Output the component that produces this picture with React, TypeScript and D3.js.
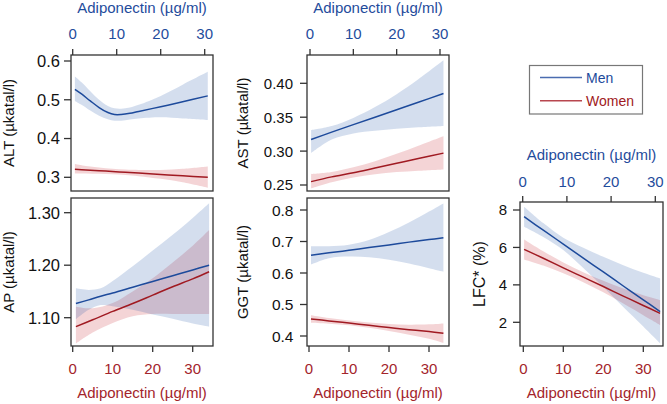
import React from 'react';
import * as d3 from 'd3';

// ---------- data ----------
const xTicks = [0, 10, 20, 30];

// ALT (µkatal/l)
const altMenX = [0.5, 2, 4, 6, 8, 9.5, 11, 13, 15, 20, 25, 30.7];
const altMen = [0.527, 0.515, 0.497, 0.480, 0.467, 0.462, 0.462, 0.465, 0.470, 0.482, 0.495, 0.510];
const altMenHi = [0.560, 0.545, 0.522, 0.500, 0.484, 0.478, 0.477, 0.480, 0.487, 0.510, 0.539, 0.572];
const altMenLo = [0.497, 0.487, 0.472, 0.459, 0.450, 0.446, 0.446, 0.449, 0.452, 0.455, 0.452, 0.448];
const altWomenX = [0.5, 3, 6, 9, 12, 15, 20, 25, 30.7];
const altWomen = [0.321, 0.319, 0.317, 0.315, 0.313, 0.311, 0.307, 0.304, 0.300];
const altWomenHi = [0.334, 0.329, 0.325, 0.322, 0.320, 0.319, 0.319, 0.322, 0.328];
const altWomenLo = [0.310, 0.310, 0.309, 0.308, 0.306, 0.303, 0.296, 0.287, 0.273];
const altTicks = [0.3, 0.4, 0.5, 0.6];

// AST (µkatal/l)
const astX = [0.25, 5, 10, 15, 20, 25, 30.8];
const astMen = [0.317, 0.328, 0.339, 0.350, 0.361, 0.372, 0.385];
const astMenHi = [0.331, 0.337, 0.349, 0.365, 0.384, 0.406, 0.434];
const astMenLo = [0.297, 0.317, 0.326, 0.330, 0.333, 0.335, 0.337];
const astWomen = [0.255, 0.262, 0.268, 0.275, 0.282, 0.289, 0.297];
const astWomenHi = [0.266, 0.269, 0.276, 0.285, 0.296, 0.308, 0.322];
const astWomenLo = [0.245, 0.254, 0.261, 0.266, 0.269, 0.271, 0.273];
const astTicks = [0.25, 0.30, 0.35, 0.40];

// AP (µkatal/l)
const apMenX = [0.8, 4, 7, 10, 15, 20, 25, 30, 34.1];
const apMen = [1.127, 1.134, 1.141, 1.147, 1.158, 1.169, 1.180, 1.191, 1.200];
const apMenHi = [1.156, 1.153, 1.156, 1.170, 1.198, 1.228, 1.258, 1.290, 1.318];
const apMenLo = [1.097, 1.115, 1.124, 1.122, 1.115, 1.106, 1.098, 1.089, 1.083];
const apWomenX = [0.8, 5, 10, 15, 20, 25, 30, 34.1];
const apWomen = [1.083, 1.096, 1.112, 1.127, 1.143, 1.159, 1.174, 1.1876];
const apWomenHi = [1.121, 1.118, 1.128, 1.150, 1.175, 1.205, 1.237, 1.267];
const apWomenLo = [1.051, 1.072, 1.090, 1.103, 1.107, 1.107, 1.107, 1.107];
const apTicks = [1.10, 1.20, 1.30];

// GGT (µkatal/l)
const ggtX = [0.5, 5, 10, 15, 20, 25, 30, 33.6];
const ggtMen = [0.656, 0.664, 0.672, 0.681, 0.689, 0.698, 0.706, 0.712];
const ggtMenHi = [0.685, 0.685, 0.690, 0.705, 0.730, 0.760, 0.795, 0.821];
const ggtMenLo = [0.627, 0.647, 0.652, 0.650, 0.642, 0.630, 0.615, 0.604];
const ggtWomen = [0.454, 0.448, 0.441, 0.434, 0.427, 0.420, 0.414, 0.409];
const ggtWomenHi = [0.466, 0.457, 0.449, 0.443, 0.438, 0.436, 0.437, 0.440];
const ggtWomenLo = [0.442, 0.439, 0.434, 0.426, 0.416, 0.404, 0.391, 0.378];
const ggtTicks = [0.4, 0.5, 0.6, 0.7, 0.8];

// LFC* (%)
const lfcX = [0.2, 5, 10, 15, 20, 25, 30, 34.2];
const lfcMen = [7.64, 6.92, 6.18, 5.43, 4.69, 3.94, 3.20, 2.57];
const lfcMenHi = [8.18, 7.30, 6.52, 5.98, 5.50, 5.05, 4.65, 4.35];
const lfcMenLo = [7.11, 6.56, 5.86, 4.90, 3.88, 2.82, 1.78, 0.88];
const lfcWomen = [5.90, 5.42, 4.91, 4.41, 3.91, 3.40, 2.90, 2.48];
const lfcWomenHi = [6.43, 5.80, 5.20, 4.68, 4.22, 3.80, 3.45, 3.19];
const lfcWomenLo = [5.36, 5.03, 4.62, 4.14, 3.60, 3.00, 2.38, 1.86];
const lfcTicks = [2, 4, 6, 8];

const legendLabels = ['Men', 'Women'];
const xTitle = 'Adiponectin (µg/ml)';

// ---------- styles ----------
const FONT = '"Liberation Sans", Arial, Helvetica, sans-serif';
const MEN = '#1d4a9b';
const WOMEN = '#a01a22';
const MEN_BAND = 'rgb(40,90,170)';
const WOMEN_BAND = 'rgb(200,40,50)';
const BAND_OP = 0.2;
const TOP_COL = '#1f4c9c';
const BOT_COL = '#a3242b';
const FRAME = '#333';

type Series = { x: number[]; y: number[]; lo: number[]; hi: number[] };

type PanelCfg = {
  frame: [number, number, number, number];
  xTop?: d3.ScaleLinear<number, number>;
  xBot?: d3.ScaleLinear<number, number>;
  xData: d3.ScaleLinear<number, number>;
  y: d3.ScaleLinear<number, number>;
  yTicks: number[];
  fmt: (v: number) => string;
  tickFont: number;
  tickGap: number;
  yLabel: string;
  yLabelX: number;
  yLabelFont: number;
  men: Series;
  women: Series;
  topTitleY?: number;
  topLabY?: number;
};

function Panel({ c }: { c: PanelCfg }) {
  const [x0, y0, x1, y1] = c.frame;
  const band = (s: Series) =>
    d3
      .area<number>()
      .x((_, i) => c.xData(s.x[i]))
      .y0((_, i) => c.y(s.lo[i]))
      .y1((_, i) => c.y(s.hi[i]))
      .curve(d3.curveCatmullRom)(s.x) || '';
  const line = (s: Series) =>
    d3
      .line<number>()
      .x((_, i) => c.xData(s.x[i]))
      .y((_, i) => c.y(s.y[i]))
      .curve(d3.curveCatmullRom)(s.x) || '';
  const cx = (x0 + x1) / 2;
  const cy = (y0 + y1) / 2;
  return (
    <g>
      <path d={band(c.women)} fill={WOMEN_BAND} fillOpacity={BAND_OP} />
      <path d={band(c.men)} fill={MEN_BAND} fillOpacity={BAND_OP} />
      <path d={line(c.women)} fill="none" stroke={WOMEN} strokeWidth={1.5} />
      <path d={line(c.men)} fill="none" stroke={MEN} strokeWidth={1.5} />
      <rect x={x0} y={y0} width={x1 - x0} height={y1 - y0} fill="none" stroke={FRAME} strokeWidth={1.3} />
      {c.yTicks.map((t) => (
        <g key={t}>
          <line x1={x0 - 7} x2={x0} y1={c.y(t)} y2={c.y(t)} stroke={FRAME} strokeWidth={1.3} />
          <text x={x0 - c.tickGap} y={c.y(t)} dy="0.36em" textAnchor="end" fontSize={c.tickFont} fill="#111">
            {c.fmt(t)}
          </text>
        </g>
      ))}
      <text
        transform={`translate(${c.yLabelX},${cy}) rotate(-90)`}
        textAnchor="middle"
        dy="0.36em"
        fontSize={c.yLabelFont}
        fill="#111"
      >
        {c.yLabel}
      </text>
      {c.xTop && (
        <g>
          {xTicks.map((t) => (
            <g key={t}>
              <line x1={c.xTop!(t)} x2={c.xTop!(t)} y1={y0 - 6} y2={y0} stroke={FRAME} strokeWidth={1.3} />
              <text x={c.xTop!(t)} y={c.topLabY} textAnchor="middle" fontSize={15} fill={TOP_COL}>
                {t}
              </text>
            </g>
          ))}
          <text x={cx} y={c.topTitleY} textAnchor="middle" fontSize={15} fill={TOP_COL}>
            {xTitle}
          </text>
        </g>
      )}
      {c.xBot && (
        <g>
          {xTicks.map((t) => (
            <g key={t}>
              <line x1={c.xBot!(t)} x2={c.xBot!(t)} y1={y1} y2={y1 + 6} stroke={FRAME} strokeWidth={1.3} />
              <text x={c.xBot!(t)} y={373.5} textAnchor="middle" fontSize={15} fill={BOT_COL}>
                {t}
              </text>
            </g>
          ))}
          <text x={cx} y={398} textAnchor="middle" fontSize={15} fill={BOT_COL}>
            {xTitle}
          </text>
        </g>
      )}
    </g>
  );
}

export default function App() {
  const lin = (d: [number, number], r: [number, number]) => d3.scaleLinear().domain(d).range(r);

  const altXs = lin([0, 30], [72.7, 204.7]);
  const astXs = lin([0, 30], [310, 440]);
  const apXs = lin([0, 30], [72.7, 192.7]);
  const ggtXs = lin([0, 30], [309, 429]);
  const lfcTop = lin([0, 30], [522.7, 655.3]);
  const lfcBot = lin([0, 30], [523.3, 643.3]);

  const panels: PanelCfg[] = [
    {
      frame: [71, 55, 213, 191],
      xTop: altXs,
      xData: altXs,
      y: lin([0.3, 0.6], [177.3, 61]),
      yTicks: altTicks,
      fmt: d3.format('.1f'),
      tickFont: 16.5,
      tickGap: 11,
      yLabel: 'ALT (µkatal/l)',
      yLabelX: 9,
      yLabelFont: 15,
      men: { x: altMenX, y: altMen, lo: altMenLo, hi: altMenHi },
      women: { x: altWomenX, y: altWomen, lo: altWomenLo, hi: altWomenHi },
      topTitleY: 13,
      topLabY: 39,
    },
    {
      frame: [307, 55, 449, 191],
      xTop: astXs,
      xData: astXs,
      y: lin([0.25, 0.4], [185, 83.3]),
      yTicks: astTicks,
      fmt: d3.format('.2f'),
      tickFont: 15,
      tickGap: 14,
      yLabel: 'AST (µkatal/l)',
      yLabelX: 243,
      yLabelFont: 15,
      men: { x: astX, y: astMen, lo: astMenLo, hi: astMenHi },
      women: { x: astX, y: astWomen, lo: astWomenLo, hi: astWomenHi },
      topTitleY: 13,
      topLabY: 39,
    },
    {
      frame: [71, 198, 213, 346],
      xBot: apXs,
      xData: apXs,
      y: lin([1.1, 1.3], [317.7, 212.7]),
      yTicks: apTicks,
      fmt: d3.format('.2f'),
      tickFont: 16.5,
      tickGap: 11,
      yLabel: 'AP (µkatal/l)',
      yLabelX: 9,
      yLabelFont: 15,
      men: { x: apMenX, y: apMen, lo: apMenLo, hi: apMenHi },
      women: { x: apWomenX, y: apWomen, lo: apWomenLo, hi: apWomenHi },
    },
    {
      frame: [307, 198, 449, 346],
      xBot: ggtXs,
      xData: ggtXs,
      y: lin([0.4, 0.8], [336, 210]),
      yTicks: ggtTicks,
      fmt: d3.format('.1f'),
      tickFont: 15.5,
      tickGap: 13.5,
      yLabel: 'GGT (µkatal/l)',
      yLabelX: 243,
      yLabelFont: 15,
      men: { x: ggtX, y: ggtMen, lo: ggtMenLo, hi: ggtMenHi },
      women: { x: ggtX, y: ggtWomen, lo: ggtWomenLo, hi: ggtWomenHi },
    },
    {
      frame: [520, 202, 663, 346],
      xTop: lfcTop,
      xBot: lfcBot,
      xData: lfcBot,
      y: lin([2, 8], [322.3, 210]),
      yTicks: lfcTicks,
      fmt: d3.format('d'),
      tickFont: 15,
      tickGap: 13,
      yLabel: 'LFC* (%)',
      yLabelX: 479,
      yLabelFont: 16,
      men: { x: lfcX, y: lfcMen, lo: lfcMenLo, hi: lfcMenHi },
      women: { x: lfcX, y: lfcWomen, lo: lfcWomenLo, hi: lfcWomenHi },
      topTitleY: 160,
      topLabY: 186.5,
    },
  ];

  const legendColors = ['#4a6cb0', '#b8474f'];
  const legendText = [MEN, WOMEN];

  return (
    <svg
      width={667}
      height={404}
      style={{ position: 'absolute', left: 0, top: 0, background: '#fff', fontFamily: FONT }}
    >
      <rect width={667} height={404} fill="#fff" />
      {panels.map((p, i) => (
        <Panel key={i} c={p} />
      ))}
      <g>
        <rect x={529.5} y={65.5} width={113} height={48.5} fill="#fff" stroke="#777" strokeWidth={1.2} />
        {legendLabels.map((l, i) => (
          <g key={l}>
            <line x1={540} x2={582} y1={77.5 + i * 23.3} y2={77.5 + i * 23.3} stroke={legendColors[i]} strokeWidth={1.5} />
            <text x={586} y={77.5 + i * 23.3} dy="0.36em" fontSize={14} fill={legendText[i]}>
              {l}
            </text>
          </g>
        ))}
      </g>
    </svg>
  );
}
